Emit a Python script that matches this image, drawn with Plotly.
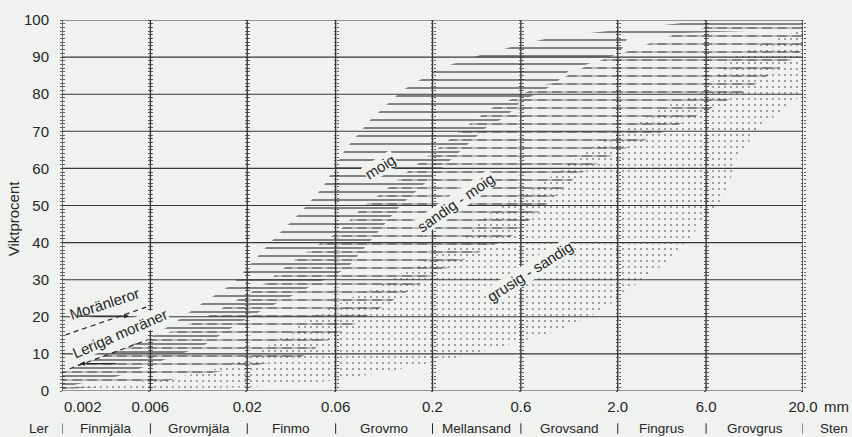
import numpy as np
import plotly.graph_objects as go

BG = "#eff2ef"
INK = "#262626"
HATCH = "#161616"
GRID = "#383838"
FONT = "Liberation Sans, Arial, sans-serif"

# ---- axes / ticks -------------------------------------------------------
x_ticks = [0.002, 0.006, 0.02, 0.06, 0.2, 0.6, 2.0, 6.0, 20.0]
x_tick_text = ["", "0.006", "0.02", "0.06", "0.2", "0.6", "2.0", "6.0", "20.0"]
y_ticks = [0, 10, 20, 30, 40, 50, 60, 70, 80, 90, 100]

# ---- grain size classes ----------------------------------------------------
classes = ["Ler", "Finmjäla", "Grovmjäla", "Finmo", "Grovmo", "Mellansand",
           "Grovsand", "Fingrus", "Grovgrus", "Sten"]
class_centers = [0.0015, 0.00346, 0.011, 0.0346, 0.11, 0.346, 1.1, 3.46, 11.0, 29.5]

# ---- band "moig" (solid hatching) ---------------------------------------
moig_up_x = [0.002, 0.0061, 0.0082, 0.0115, 0.0168, 0.0207, 0.0275, 0.0385,
             0.0513, 0.0675, 0.092, 0.137, 0.219, 0.384, 0.894, 2.0, 4.44, 7.1, 20.0]
moig_up_y = [5, 14.6, 18.6, 23.7, 29, 34, 40.7, 48, 55, 65, 73, 81, 87, 91,
             95.4, 97.3, 99.2, 100, 100]
moig_lo_x = [0.002, 0.004, 0.0114, 0.02, 0.069, 0.134, 0.39, 0.5, 0.6, 0.9,
             1.1, 2.05, 2.3, 20.0]
moig_lo_y = [1, 4, 12, 19.7, 33, 50, 71, 74, 78, 82.5, 86.5, 91, 96, 97.5]

# ---- band "sandig - moig" (dashed hatching) -------------------------------
sand_up_x = [0.002, 0.006, 0.0121, 0.0234, 0.0371, 0.061, 0.0843, 0.108, 0.151,
             0.219, 0.281, 0.408, 0.647, 0.975, 1.47, 2.54, 4.23, 6.87, 20.0]
sand_up_y = [5.7, 13.7, 20, 28, 35.8, 42.6, 49.6, 53.6, 59.6, 65.8, 70, 76,
             80.6, 84, 88.4, 92.4, 96.5, 98.4, 99.5]
sand_lo_x = [0.002, 0.006, 0.0386, 0.1225, 0.228, 0.544, 1.2, 1.93, 4.33, 9.1, 16.4, 20.0]
sand_lo_y = [0.5, 2, 9, 24.5, 32.6, 42, 58, 64, 72, 80, 88.4, 92]

# ---- band "grusig - sandig" (dotted hatching) -----------------------------
grus_up_x = [0.002, 0.00676, 0.0121, 0.0207, 0.0312, 0.0436, 0.0718, 0.118,
             0.157, 0.219, 0.281, 0.408, 0.647, 0.83, 1.146, 1.66, 2.73, 3.51,
             6.06, 7.78, 11.7, 20.0]
grus_up_y = [0.8, 3, 5.2, 9.3, 14.6, 19.7, 25, 30, 33.4, 37.2, 40.7, 48.2, 54,
             57, 62, 67.7, 73, 76.5, 81, 89, 93.3, 97.5]
grus_lo_x = [0.002, 0.02, 0.0513, 0.108, 0.171, 0.281, 0.462, 0.789, 1.064,
             1.545, 2.06, 2.88, 3.69, 4.73, 5.77, 6.87, 7.78, 8.81, 11.7, 20.0]
grus_lo_y = [0, 1, 2.5, 5, 7, 9.2, 11.9, 15, 17.3, 21, 25.3, 31.3, 34.5, 40,
             46, 50, 54, 63, 71, 80]

# ---- dashed boundary lines at the left (Moränleror / Leriga moräner) -------
bound_a_x = [0.00208, 0.0057]
bound_a_y = [15.1, 22.6]
bound_b_x = [0.0022, 0.0058]
bound_b_y = [6.0, 13.8]

# ---- small arrows at the left: (head x, head y, tail x, tail y) -----------
arrows = [(0.0046, 20.2, 0.0024, 20.2), (0.0025, 7.4, 0.0040, 7.4)]

# ---- labels ----------------------------------------------------------------
band_labels = ["moig", "sandig - moig", "grusig - sandig", "Moränleror", "Leriga moräner"]
band_label_x = [0.105, 0.268, 0.671, 0.00341, 0.00411]
band_label_y = [60.4, 50.7, 32.1, 23.7, 15.6]
band_label_angle = [-32, -35, -32.5, -18, -23.5]


def polygon(ux, uy, lx, ly):
    return list(ux) + list(lx)[::-1], list(uy) + list(ly)[::-1]


def pattern(shape, size, solidity, color):
    return dict(shape=shape, size=size, solidity=solidity, fgcolor=color,
                bgcolor="rgba(0,0,0,0)", fillmode="overlay")


fig = go.Figure()

# dashed band (subplot 2, shifted pattern origin) + cutter for dashes
sx, sy = polygon(sand_up_x, sand_up_y, sand_lo_x, sand_lo_y)
fig.add_trace(go.Scatter(x=sx, y=sy, xaxis="x2", yaxis="y2", mode="none",
                         fill="toself", fillcolor="rgba(0,0,0,0)",
                         fillpattern=pattern("-", 8, 0.25, HATCH), hoverinfo="skip"))
fig.add_trace(go.Scatter(x=sx, y=sy, xaxis="x2", yaxis="y2", mode="none",
                         fill="toself", fillcolor="rgba(0,0,0,0)",
                         fillpattern=pattern("|", 15, 0.35, BG), hoverinfo="skip"))

# solid band (subplot 3)
mx, my = polygon(moig_up_x, moig_up_y, moig_lo_x, moig_lo_y)
fig.add_trace(go.Scatter(x=mx, y=my, xaxis="x3", yaxis="y3", mode="none",
                         fill="toself", fillcolor="rgba(0,0,0,0)",
                         fillpattern=pattern("-", 8, 0.25, HATCH), hoverinfo="skip"))
for bx, by in [(bound_a_x, bound_a_y), (bound_b_x, bound_b_y)]:
    fig.add_trace(go.Scatter(x=bx, y=by, xaxis="x3", yaxis="y3", mode="lines",
                             line=dict(color=INK, width=1.2, dash="5px,4px"),
                             hoverinfo="skip"))

# dotted band (subplot 4)
gx, gy = polygon(grus_up_x, grus_up_y, grus_lo_x, grus_lo_y)
fig.add_trace(go.Scatter(x=gx, y=gy, xaxis="x4", yaxis="y4", mode="none",
                         fill="toself", fillcolor="rgba(0,0,0,0)",
                         fillpattern=pattern(".", 6, 0.09, HATCH), hoverinfo="skip"))

T, B = 16, 46
PH = 437 - T - B          # 375 px
MAIN_H = 371              # main plot height (px)
xr = [np.log10(x_ticks[0]), np.log10(x_ticks[-1])]

layout = dict(
    width=852, height=437,
    margin=dict(l=62, r=49, t=T, b=B),
    paper_bgcolor=BG, plot_bgcolor="rgba(0,0,0,0)", showlegend=False,
    font=dict(family=FONT, color=INK),
    xaxis=dict(type="log", range=xr, domain=[0, 1], tickvals=x_ticks,
               ticktext=x_tick_text, showgrid=False, zeroline=False,
               showline=False, ticks="", ticklabelstandoff=5,
               tickfont=dict(size=15, family=FONT, color=INK), automargin=False,
               fixedrange=True),
    yaxis=dict(range=[0, 100], domain=[0, MAIN_H / PH], tickvals=y_ticks,
               showgrid=False, zeroline=False, showline=False, ticks="",
               ticklabelstandoff=12, tickfont=dict(size=15, family=FONT, color=INK),
               automargin=False, fixedrange=True),
)
offsets = {2: PH - MAIN_H, 3: 0, 4: (PH - MAIN_H) // 2}
for k, off in offsets.items():
    top_h = MAIN_H + off
    layout[f"xaxis{k}"] = dict(type="log", range=xr, domain=[0, 1], visible=False,
                               anchor=f"y{k}", fixedrange=True)
    layout[f"yaxis{k}"] = dict(range=[0, 100 * top_h / MAIN_H], domain=[0, top_h / PH],
                               visible=False, anchor=f"x{k}", fixedrange=True)

# ruler ticks along every vertical line (free axes overlaying the main y axis)
k = 5
for v in x_ticks:
    p = (np.log10(v) - xr[0]) / (xr[1] - xr[0])
    for side in ["inside", "outside"]:
        layout[f"yaxis{k}"] = dict(overlaying="y", anchor="free", position=float(p),
                                   range=[0, 100], tick0=0, dtick=1, ticks=side,
                                   ticklen=2, tickwidth=1, tickcolor="#5e5e5e",
                                   showticklabels=False, showgrid=False,
                                   zeroline=False, showline=False, fixedrange=True)
        # invisible placeholder so the axis gets drawn
        fig.add_trace(go.Scatter(x=[x_ticks[0]], y=[y_ticks[0]], yaxis=f"y{k}",
                                 mode="markers", marker=dict(opacity=0),
                                 hoverinfo="skip"))
        k += 1

fig.update_layout(**layout)

# grid / frame
shapes = []
for v in x_ticks:
    shapes.append(dict(type="line", xref="x", yref="y", x0=v, x1=v, y0=0, y1=100,
                       line=dict(color=GRID, width=1.4), layer="above"))
for v in y_ticks:
    shapes.append(dict(type="line", xref="x", yref="y", x0=x_ticks[0], x1=x_ticks[-1],
                       y0=v, y1=v, line=dict(color=GRID, width=1.1), layer="above"))
# class separators below the axis
for v in x_ticks:
    shapes.append(dict(type="line", xref="x", yref="paper", x0=v, x1=v,
                       y0=-0.086, y1=-0.114, line=dict(color=INK, width=1)))
fig.update_layout(shapes=shapes)

ann = []
ann.append(dict(x=xr[0], y=-0.04, xref="x", yref="paper", text="0.002",
                showarrow=False, xanchor="left", yanchor="middle",
                font=dict(size=15, family=FONT, color=INK)))
ann.append(dict(x=xr[1], y=-0.04, xref="x", yref="paper", text="mm",
                showarrow=False, xanchor="left", yanchor="middle", xshift=19,
                font=dict(size=15, family=FONT, color=INK)))
for name, c in zip(classes, class_centers):
    px = (np.log10(c) - xr[0]) / (xr[1] - xr[0])
    ann.append(dict(x=float(px), y=-0.099, xref="paper", yref="paper", text=name,
                    showarrow=False, xanchor="center", yanchor="middle",
                    font=dict(size=13.5, family=FONT, color=INK)))
ann.append(dict(x=-0.065, y=0.46, xref="paper", yref="paper", text="Viktprocent",
                textangle=-90, showarrow=False, xanchor="center", yanchor="middle",
                font=dict(size=15, family=FONT, color=INK)))
for t, lx, ly, a in zip(band_labels, band_label_x, band_label_y, band_label_angle):
    ann.append(dict(x=np.log10(lx), y=ly, xref="x", yref="y", text=t, textangle=a,
                    showarrow=False, xanchor="center", yanchor="middle",
                    bgcolor=BG, borderpad=0,
                    font=dict(size=15, family=FONT, color=INK)))
for hx, hy, tx, ty in arrows:
    ann.append(dict(x=np.log10(hx), y=hy, ax=np.log10(tx), ay=ty, xref="x", yref="y",
                    axref="x", ayref="y", text="", showarrow=True, arrowhead=2,
                    arrowsize=0.8, arrowwidth=1.2, arrowcolor=INK))
fig.update_layout(annotations=ann)

fig.write_html("out.html",
               config={"displayModeBar": False},
               post_script="document.body.style.margin='0';"
                           "document.body.style.overflow='hidden';")
